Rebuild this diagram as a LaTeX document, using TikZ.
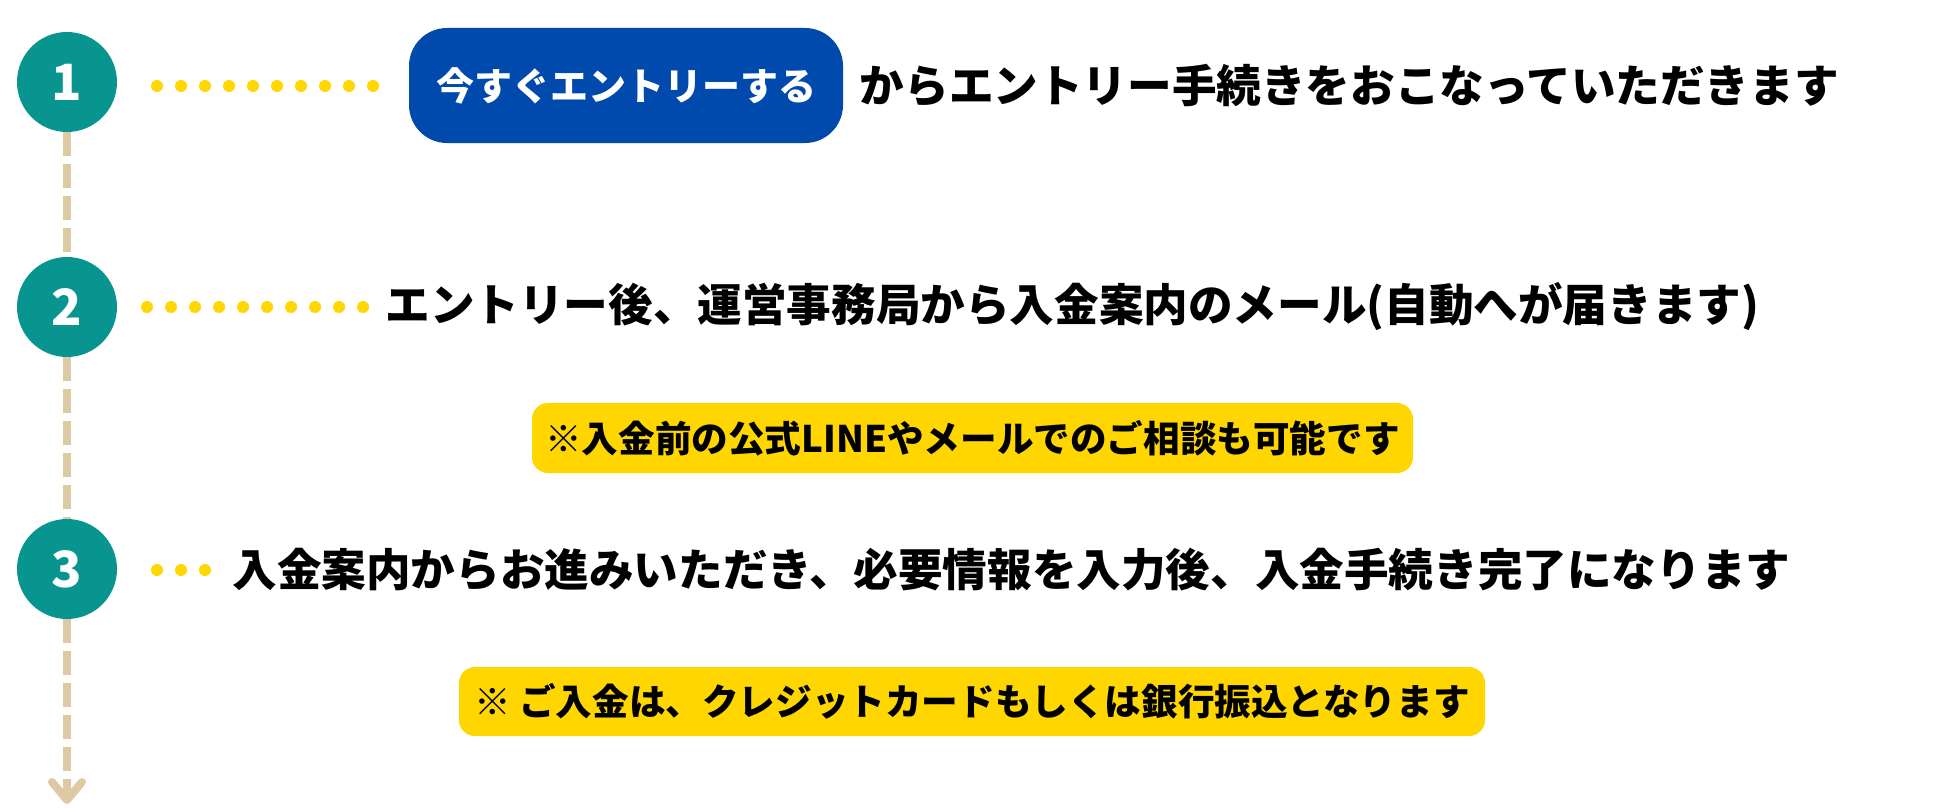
\documentclass[tikz,border=0pt]{standalone}
\usepackage{fontspec}
\setmainfont{Noto Sans CJK JP}
\usetikzlibrary{positioning,arrows.meta}

\definecolor{stepteal}{HTML}{08948F}
\definecolor{entryblue}{HTML}{004AAD}
\definecolor{noteyellow}{HTML}{FFD600}
\definecolor{trailtan}{HTML}{DDC9A4}

\tikzset{
  stepnum/.style={circle, fill=stepteal, minimum size=50pt, inner sep=0pt,
    text=white, font=\bfseries\fontsize{25pt}{30pt}\selectfont},
  steptext/.style={anchor=west, inner sep=0pt,
    font=\bfseries\fontsize{22.3pt}{26pt}\selectfont},
  notebox/.style={fill=noteyellow, rounded corners=8pt, inner sep=0pt,
    font=\bfseries\fontsize{18.3pt}{22pt}\selectfont},
  entrybtn/.style={fill=entryblue, rounded corners=19pt, inner sep=0pt,
    minimum width=217pt, minimum height=57.5pt, text=white,
    font=\bfseries\fontsize{19pt}{22pt}\selectfont},
  trail/.style={draw=trailtan, line width=4pt, dash pattern=on 12pt off 4pt},
  leader/.style={fill=noteyellow}
}

\begin{document}
\begin{tikzpicture}[x=0.5pt, y=-0.5pt]
  \useasboundingbox (0,0) rectangle (1948,808);

  % step circles
  \node[stepnum] (one) at (67,82) {1};
  \node[stepnum] (two) at (67,307) {2};
  \node[stepnum] (three) at (67,569) {3};
  \coordinate (tip) at (67,804);

  \draw[trail] (one) -- (two);
  \draw[trail] (two) -- (three);
  \draw[trail, -{Straight Barb[length=9pt, width=15pt, round]}] (three) -- (tip);

  % dotted leaders
  \foreach \i in {0,...,9} \fill[leader] (157+24*\i,86) circle (3pt);
  \foreach \i in {0,...,9} \fill[leader] (147+24*\i,307) circle (3pt);
  \foreach \i in {0,...,2} \fill[leader] (157+24*\i,570) circle (3pt);

  % step 1
  \node[entrybtn] (entry) at (626,85.5) {今すぐエントリーする};
  \node[steptext, right=8pt of entry] (text1) {からエントリー手続きをおこなっていただきます};

  % step 2
  \node[steptext] (text2) at (385,307) {エントリー後、運営事務局から入金案内のメール(自動へが届きます)};
  \node[notebox, minimum width=440.5pt, minimum height=35pt] (note1) at (972.5,438)
    {※入金前の公式LINEやメールでのご相談も可能です};

  % step 3
  \node[steptext] (text3) at (232,570) {入金案内からお進みいただき、必要情報を入力後、入金手続き完了になります};
  \node[notebox, minimum width=513pt, minimum height=34.5pt] (note2) at (972,701.5)
    {※ ご入金は、クレジットカードもしくは銀行振込となります};
\end{tikzpicture}
\end{document}
